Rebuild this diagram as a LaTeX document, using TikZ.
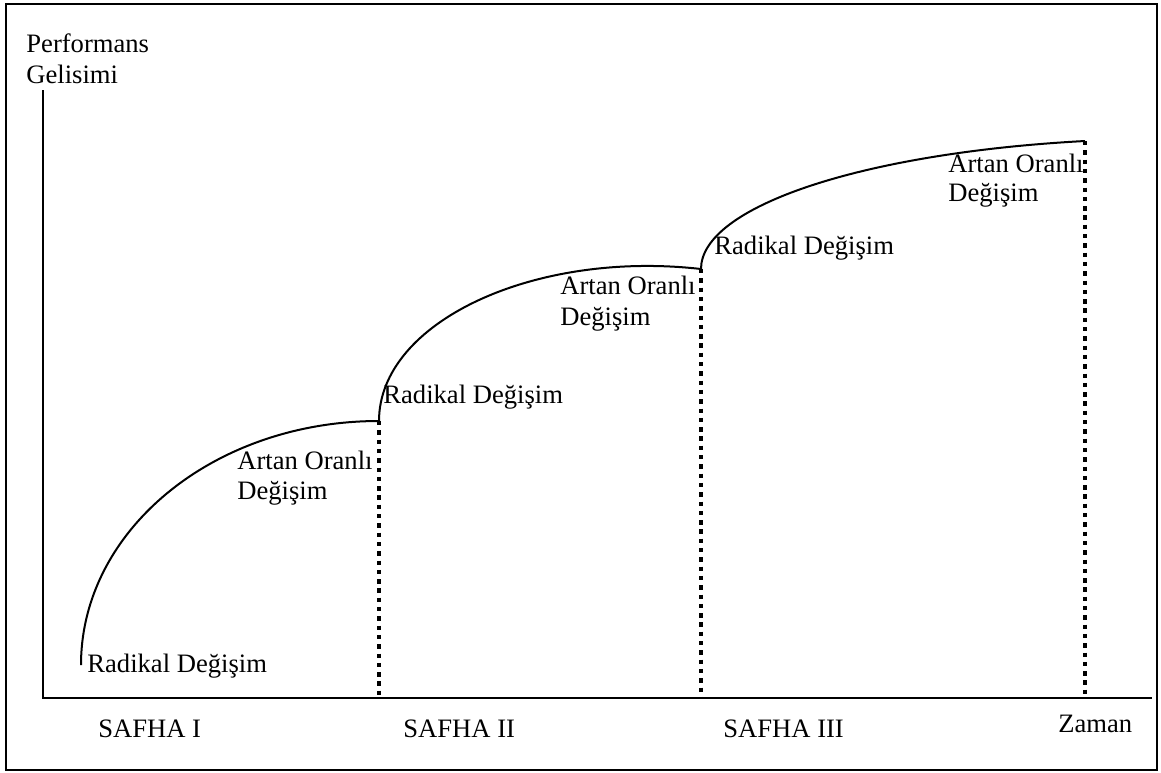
\documentclass[tikz,border=0pt]{standalone}
\usepackage{fontspec}
\setmainfont{Liberation Serif}
\begin{document}
\begin{tikzpicture}[x=0.5pt,y=-0.5pt,
  lbl/.style={anchor=base west, inner sep=0pt, font=\fontsize{13.3pt}{15.5pt}\selectfont},
  curveline/.style={line width=1pt},
  axisline/.style={line width=1.2pt},
  phaseline/.style={line width=2.3pt, dash pattern=on 2.2pt off 2.45pt}]
\useasboundingbox (0,0) rectangle (1161,772);
\draw[line width=1pt] (6,4) rectangle (1157,770);
% axes
\coordinate (O) at (43,698);
\coordinate (ytop) at (43,90);
\coordinate (xend) at (1152,698);
\draw[axisline] (ytop) -- (O) -- (xend);
% curve points
\coordinate (s0) at (81,665);
\coordinate (s1) at (379,421);
\coordinate (s2) at (701,269);
\coordinate (s3) at (1085,141);
\coordinate (b1) at (379,698);
\coordinate (b2) at (701,698);
\coordinate (b3) at (1085,698);
% curves
\draw[curveline] (s0) .. controls +(0,-135) and +(-165,0) .. (s1);
\draw[curveline] (s1) .. controls +(0,-99) and +(-167,-19) .. (s2);
\draw[curveline] (s2) .. controls +(0,-62) and +(-224,12) .. (s3);
% phase boundaries
\draw[phaseline] (s1) -- (b1);
\draw[phaseline] (s2) -- (b2);
\draw[phaseline] (s3) -- (b3);
% labels
\node[lbl] (perf) at (26,52) {Performans};
\node[lbl] (gel) at (26,83) {Gelisimi};
\node[lbl] (r1) at (87,672) {Radikal Değişim};
\node[lbl] (a1) at (237,469) {Artan Oranlı};
\node[lbl] (d1) at (237,499) {Değişim};
\node[lbl] (r2) at (383,403) {Radikal Değişim};
\node[lbl] (a2) at (560,294) {Artan Oranlı};
\node[lbl] (d2) at (560,325) {Değişim};
\node[lbl] (r3) at (714,254) {Radikal Değişim};
\node[lbl] (a3) at (948,172) {Artan Oranlı};
\node[lbl] (d3) at (948,201) {Değişim};
\node[lbl] (p1) at (98,737) {SAFHA I};
\node[lbl] (p2) at (403,737) {SAFHA II};
\node[lbl] (p3) at (723,737) {SAFHA III};
\node[lbl] (zaman) at (1058,732) {Zaman};
\end{tikzpicture}
\end{document}
